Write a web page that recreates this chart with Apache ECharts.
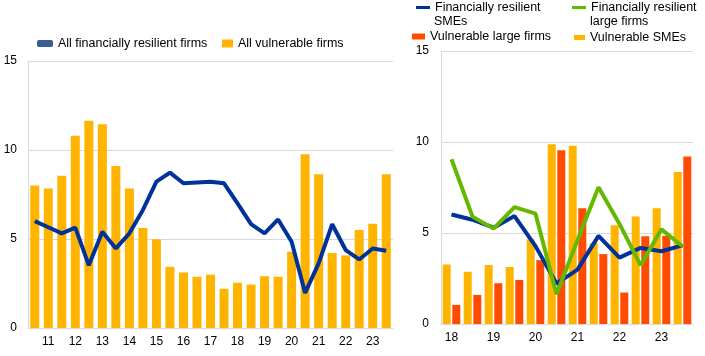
<!DOCTYPE html>
<html>
<head>
<meta charset="utf-8">
<script src="https://cdn.jsdelivr.net/npm/echarts@6/dist/echarts.min.js"></script>
<style>
html,body{margin:0;padding:0;background:#fff;}
#c{width:705px;height:356px;}
</style>
</head>
<body>
<div id="c"></div>
<script>
// Left panel: semi-annual periods, 2010 H2 - 2023 H2
var leftCategories = ['2010 H2','2011 H1','2011 H2','2012 H1','2012 H2','2013 H1','2013 H2','2014 H1','2014 H2','2015 H1','2015 H2','2016 H1','2016 H2','2017 H1','2017 H2','2018 H1','2018 H2','2019 H1','2019 H2','2020 H1','2020 H2','2021 H1','2021 H2','2022 H1','2022 H2','2023 H1','2023 H2'];
var allResilient = [6.0, 5.66, 5.32, 5.64, 3.52, 5.41, 4.47, 5.32, 6.63, 8.22, 8.73, 8.13, 8.18, 8.22, 8.13, 7.0, 5.84, 5.32, 6.1, 4.85, 1.97, 3.63, 5.83, 4.38, 3.85, 4.47, 4.34];
var allVulnerable = [8.0, 7.84, 8.56, 10.8, 11.64, 11.44, 9.1, 7.84, 5.62, 4.98, 3.44, 3.12, 2.88, 3.0, 2.2, 2.54, 2.44, 2.91, 2.88, 4.29, 9.76, 8.64, 4.21, 4.08, 5.51, 5.85, 8.64];

// Right panel: semi-annual periods, 2018 H1 - 2023 H2
var rightCategories = ['2018 H1','2018 H2','2019 H1','2019 H2','2020 H1','2020 H2','2021 H1','2021 H2','2022 H1','2022 H2','2023 H1','2023 H2'];
var resilientSMEs = [6.02, 5.73, 5.29, 5.93, 4.28, 2.22, 2.99, 4.84, 3.65, 4.18, 4.0, 4.32];
var resilientLarge = [9.05, 5.9, 5.24, 6.42, 6.06, 1.64, 4.6, 7.52, 5.5, 3.23, 5.2, 4.27];
var vulnerableLarge = [1.05, 1.6, 2.24, 2.42, 3.51, 9.54, 6.36, 3.84, 1.73, 4.82, 4.85, 9.21];
var vulnerableSMEs = [3.27, 2.87, 3.24, 3.13, 4.65, 9.87, 9.8, 4.45, 5.42, 5.9, 6.36, 8.35];

var yTicks = [0, 5, 10, 15];

var FONT = 'Liberation Sans';
var TXT = '#000';
var GRID = '#d9d9d9';
var BLUE = '#003299', YELLOW = '#ffb400', RED = '#ff4b00', GREEN = '#65b800';

function yearLabel(v) {
  var p = v.split(' ');
  return p[1] === 'H1' ? p[0].slice(2) : '';
}

var chart = echarts.init(document.getElementById('c'), null, {renderer: 'canvas'});

function xAxis(gi, cats) {
  return {
    type: 'category', gridIndex: gi, data: cats,
    axisLine: {show: true, lineStyle: {color: GRID, width: 1}},
    axisTick: {show: false},
    axisLabel: {interval: 0, formatter: yearLabel, color: TXT, fontFamily: FONT, fontSize: 12, margin: 8}
  };
}
function yAxis(gi, margin) {
  return {
    type: 'value', gridIndex: gi, min: yTicks[0], max: yTicks[yTicks.length - 1], interval: 5,
    axisLine: {show: true, lineStyle: {color: GRID, width: 1}},
    axisTick: {show: false},
    splitLine: {show: true, lineStyle: {color: GRID, width: 1}},
    axisLabel: {color: TXT, fontFamily: FONT, fontSize: 12, margin: margin}
  };
}

var legendText = {color: TXT, fontFamily: FONT, fontSize: 12.5};

chart.setOption({
  animation: false,
  backgroundColor: '#fff',
  grid: [
    {left: 28, top: 61, width: 365, height: 267},
    {left: 441, top: 51, width: 252, height: 273}
  ],
  xAxis: [xAxis(0, leftCategories), xAxis(1, rightCategories)],
  yAxis: [yAxis(0, 11), yAxis(1, 12)],
  legend: [
    {data: [{name: 'All financially resilient firms', icon: 'roundRect', itemStyle: {color: '#3b5d8f'}}],
     left: 37, top: 37, padding: 0, itemWidth: 16, itemHeight: 7, selectedMode: false, textStyle: legendText},
    {data: [{name: 'All vulnerable firms', icon: 'rect'}],
     left: 222, top: 37, padding: 0, itemWidth: 11, itemHeight: 8, selectedMode: false, textStyle: legendText},
    {data: [{name: 'Financially resilient SMEs', icon: 'rect'}],
     left: 416, top: 1, padding: 0, itemWidth: 14, itemHeight: 3, selectedMode: false, textStyle: legendText,
     formatter: function () { return 'Financially resilient'; }},
    {data: [{name: 'Financially resilient large firms', icon: 'rect'}],
     left: 572, top: 1, padding: 0, itemWidth: 14, itemHeight: 3, selectedMode: false, textStyle: legendText,
     formatter: function () { return 'Financially resilient'; }},
    {data: [{name: 'Vulnerable large firms', icon: 'rect'}],
     left: 412, top: 30, padding: 0, itemWidth: 13, itemHeight: 6, selectedMode: false, textStyle: legendText},
    {data: [{name: 'Vulnerable SMEs', icon: 'rect'}],
     left: 574, top: 31, padding: 0, itemWidth: 11, itemHeight: 5, selectedMode: false, textStyle: legendText}
  ],
  graphic: [
    {type: 'text', left: 434, top: 15, silent: true, style: {text: 'SMEs', fill: TXT, font: '12.5px "Liberation Sans"'}},
    {type: 'text', left: 590, top: 15, silent: true, style: {text: 'large firms', fill: TXT, font: '12.5px "Liberation Sans"'}}
  ],
  series: [
    {name: 'All vulnerable firms', type: 'bar', xAxisIndex: 0, yAxisIndex: 0, data: allVulnerable,
     barWidth: 9, itemStyle: {color: YELLOW}},
    {name: 'All financially resilient firms', type: 'line', xAxisIndex: 0, yAxisIndex: 0, data: allResilient,
     symbol: 'none', lineStyle: {color: BLUE, width: 4}, itemStyle: {color: BLUE}},
    {name: 'Vulnerable SMEs', type: 'bar', xAxisIndex: 1, yAxisIndex: 1, data: vulnerableSMEs,
     barWidth: 8, barGap: '20%', itemStyle: {color: YELLOW}},
    {name: 'Vulnerable large firms', type: 'bar', xAxisIndex: 1, yAxisIndex: 1, data: vulnerableLarge,
     barWidth: 8, barGap: '20%', itemStyle: {color: RED}},
    {name: 'Financially resilient SMEs', type: 'line', xAxisIndex: 1, yAxisIndex: 1, data: resilientSMEs,
     symbol: 'none', lineStyle: {color: BLUE, width: 4}, itemStyle: {color: BLUE}},
    {name: 'Financially resilient large firms', type: 'line', xAxisIndex: 1, yAxisIndex: 1, data: resilientLarge,
     symbol: 'none', lineStyle: {color: GREEN, width: 4}, itemStyle: {color: GREEN}}
  ]
});
</script>
</body>
</html>
